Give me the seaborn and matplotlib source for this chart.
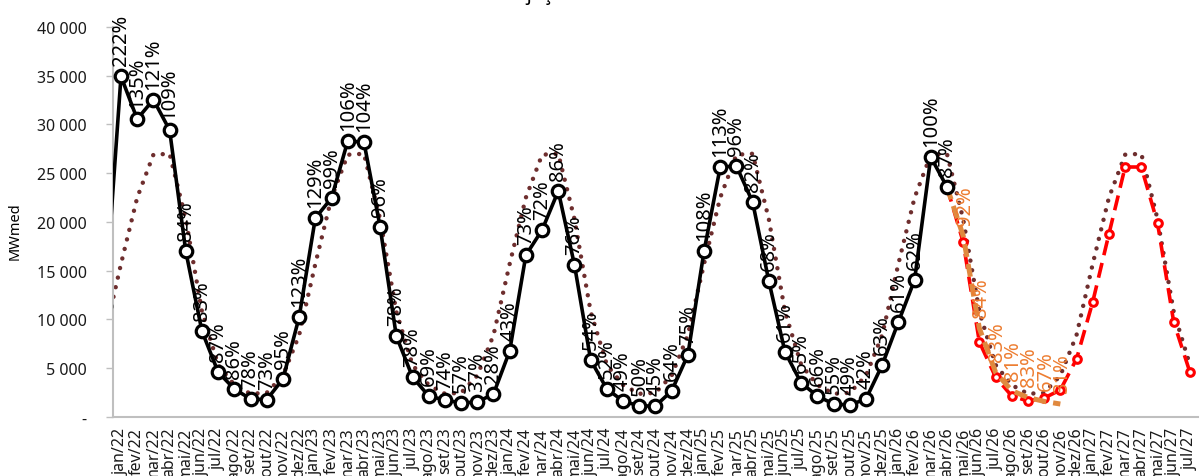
import matplotlib
matplotlib.use("Agg")
import matplotlib.pyplot as plt
import numpy as np
import pandas as pd
import seaborn as sns

sns.set_style("white")
plt.rcParams["font.family"] = ["Noto Sans", "DejaVu Sans"]

# Eixo de meses (dez/21 fica fora da area visivel, so para a linha entrar pela borda)
meses = ["jan", "fev", "mar", "abr", "mai", "jun", "jul", "ago", "set", "out", "nov", "dez"]
anos = ["22", "23", "24", "25", "26", "27"]
rotulos_x = [f"{m}/{a}" for a in anos for m in meses][:67]  # jan/22 .. jul/27

# MLT por mes do ano (MWmed)
mlt_mensal = [15700, 22500, 26900, 27000, 20300, 10800, 5350, 3280, 2380, 2480, 4250, 8400]

# Verificado: dez/21 .. abr/26
verificado = [11400,
              34940, 30560, 32550, 29440, 17000, 8800, 4600, 2870, 1850, 1780, 3900, 10250,
              20400, 22460, 28300, 28200, 19500, 8300, 4100, 2150, 1740, 1440, 1540, 2360,
              6770, 16600, 19180, 23180, 15600, 5850, 2870, 1640, 1130, 1130, 2670, 6360,
              17000, 25640, 25740, 22050, 13950, 6670, 3490, 2150, 1330, 1230, 1850, 5330,
              9740, 14050, 26670, 23590]
pct_verificado = [222, 135, 121, 109, 84, 83, 87, 86, 78, 73, 95, 123,
                  129, 99, 106, 104, 96, 78, 78, 69, 74, 57, 37, 28,
                  43, 73, 72, 86, 76, 54, 52, 49, 50, 45, 64, 75,
                  108, 113, 96, 82, 68, 61, 65, 66, 55, 49, 42, 63,
                  61, 62, 100, 87]

# Previsao laranja: abr/26 .. nov/26
previsao = [23590, 18600, 9100, 4600, 2700, 2000, 1600, 1330]
pct_previsao = [92, 84, 83, 81, 83, 67, 31]

# Cenario vermelho: abr/26 .. jul/27
cenario = [23590, 17950, 7700, 4100, 2150, 1640, 1950, 2770, 5950,
           11800, 18770, 25640, 25640, 19900, 9740, 4600]

idx_mlt = np.arange(-1, 67)
mlt = pd.DataFrame({"x": idx_mlt, "y": [mlt_mensal[i % 12] for i in idx_mlt]})
df_ver = pd.DataFrame({"x": np.arange(-1, -1 + len(verificado)), "y": verificado})
df_prev = pd.DataFrame({"x": np.arange(51, 51 + len(previsao)), "y": previsao})
df_cen = pd.DataFrame({"x": np.arange(51, 51 + len(cenario)), "y": cenario})

fig = plt.figure(figsize=(12.01, 4.77), dpi=100)
ax = fig.add_axes([0.094, 0.1237, 0.9035, 0.8176])

sns.lineplot(data=mlt, x="x", y="y", ax=ax, color="#6E2E2E", linewidth=3.2,
             linestyle=(0, (0.01, 2.2)), dash_capstyle="round", zorder=2)
sns.lineplot(data=df_cen, x="x", y="y", ax=ax, color="#FF0000", linewidth=2.6,
             linestyle=(0, (4.2, 2.2)), marker="o", markersize=5.5,
             markerfacecolor="white", markeredgecolor="#FF0000", markeredgewidth=2.2, zorder=3)
sns.lineplot(data=df_prev, x="x", y="y", ax=ax, color="#E0893E", linewidth=3.6,
             linestyle=(0, (2.6, 1.4)), zorder=4)
sns.lineplot(data=df_ver, x="x", y="y", ax=ax, color="black", linewidth=2.6,
             marker="o", markersize=9, markerfacecolor="white",
             markeredgecolor="black", markeredgewidth=2.3, zorder=5)

# rotulos de % (acima dos pontos, verticais)
for x, v, p in zip(df_ver["x"][1:], verificado[1:], pct_verificado):
    ax.annotate(f"{p}%", (x, v), xytext=(0, 8), textcoords="offset points",
                rotation=90, ha="center", va="bottom", fontsize=14.5, color="black",
                zorder=6, annotation_clip=False)
for x, v, p in zip(df_prev["x"][1:], previsao[1:], pct_previsao):
    ax.annotate(f"{p}%", (x, v), xytext=(1, 8), textcoords="offset points",
                rotation=90, ha="center", va="bottom", fontsize=14.5, color="#ED7D31",
                zorder=6, annotation_clip=False)

ax.set_xlim(-0.5, 66.5)
ax.set_ylim(0, 40000)
ax.set_xticks(np.arange(67))
ax.set_xticklabels(rotulos_x, rotation=90, fontsize=11.5, color="#1A1A1A")
ax.set_xticks(np.arange(-0.5, 67, 1), minor=True)
ax.tick_params(axis="x", which="major", length=0, pad=7)
ax.tick_params(axis="x", which="minor", length=6, color="#BFBFBF", width=1)

yt = np.arange(0, 40001, 5000)
ax.set_yticks(yt)
ax.set_yticklabels(["-"] + [f"{v:,}".replace(",", " ") for v in yt[1:]],
                   fontsize=11.5, color="#1A1A1A")
ax.tick_params(axis="y", length=5, color="#BFBFBF", width=1, pad=14, left=True)

ax.set_xlabel("")
ax.set_ylabel("")
for s in ["top", "right"]:
    ax.spines[s].set_visible(False)
for s in ["left", "bottom"]:
    ax.spines[s].set_color("#BFBFBF")
    ax.spines[s].set_linewidth(1.5)

fig.text(15 / 1201, 0.516, "MWmed", rotation=90, ha="center", va="center",
         fontsize=10.5, fontweight="bold", color="black")
fig.text(0.475, 0.999, "Projeção da ENA", ha="center", va="baseline",
         fontsize=14, fontweight="bold", color="black")

fig.savefig("out.png", dpi=100)
